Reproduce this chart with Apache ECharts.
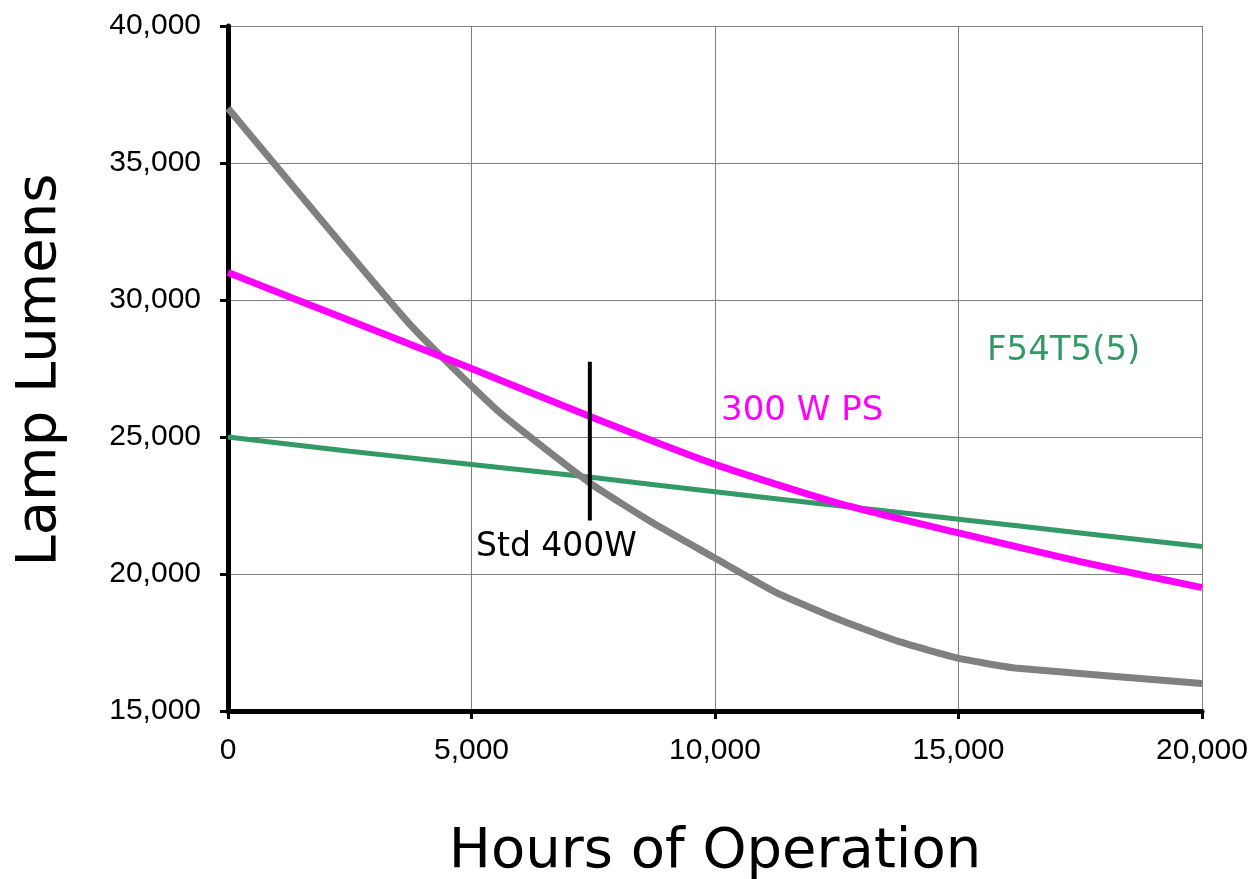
<!DOCTYPE html>
<html>
<head>
<meta charset="utf-8">
<script src="https://cdn.jsdelivr.net/npm/echarts@6/dist/echarts.min.js"></script>
<style>
html,body{margin:0;padding:0;background:#fff;}
#chart{width:1258px;height:879px;}
</style>
</head>
<body>
<div id="chart"></div>
<script>
// Data
const std400Hours  = [0, 3740, 5590, 7450, 8730, 9960, 11270, 12570, 13800, 14990, 16160, 20000];
const std400Lumens = [37000, 29100, 25880, 23300, 21860, 20620, 19310, 18320, 17520, 16930, 16570, 16000];

const ps300Hours  = [0, 2500, 5000, 7500, 10000, 12500, 15000, 17500, 20000];
const ps300Lumens = [31000, 29250, 27500, 25700, 24000, 22600, 21500, 20450, 19500];

const t5Hours  = [0, 2500, 5000, 7500, 10000, 12500, 15000, 17500, 20000];
const t5Lumens = [25000, 24480, 24000, 23520, 23000, 22500, 22000, 21500, 21000];

const markerHours  = [7430, 7430];
const markerLumens = [27750, 21950];

const xTicks = [0, 5000, 10000, 15000, 20000];
const yTicks = [15000, 20000, 25000, 30000, 35000, 40000];

const seriesNames = ['Std 400W', '300 W PS', 'F54T5(5)'];

function pairs(xs, ys){ return xs.map((x,i)=>[x, ys[i]]); }
function fmt(v){ return v.toLocaleString('en-US'); }

const chart = echarts.init(document.getElementById('chart'));
const tickFont = 'Liberation Sans';

chart.setOption({
  animation: false,
  backgroundColor: '#ffffff',
  grid: {left: 228, right: 56, top: 26, bottom: 168},
  xAxis: {
    type: 'value', min: xTicks[0], max: xTicks[xTicks.length-1], interval: 5000,
    axisLine: {show: true, onZero: false, lineStyle: {color: '#000', width: 5}},
    axisTick: {show: true, length: 8, lineStyle: {color: '#000', width: 3}},
    axisLabel: {formatter: fmt, color: '#000', fontFamily: tickFont, fontSize: 30, margin: 25},
    splitLine: {show: true, lineStyle: {color: '#808080', width: 1}}
  },
  yAxis: {
    type: 'value', min: yTicks[0], max: yTicks[yTicks.length-1], interval: 5000,
    axisLine: {show: true, onZero: false, lineStyle: {color: '#000', width: 5}},
    axisTick: {show: true, length: 8, lineStyle: {color: '#000', width: 3}},
    axisLabel: {formatter: fmt, color: '#000', fontFamily: tickFont, fontSize: 30, margin: 27},
    splitLine: {show: true, lineStyle: {color: '#808080', width: 1}}
  },
  series: [
    {name: seriesNames[2], type: 'line', data: pairs(t5Hours, t5Lumens), showSymbol: false, smooth: 0.2,
     lineStyle: {color: '#339966', width: 5}, z: 3},
    {name: seriesNames[0], type: 'line', data: pairs(std400Hours, std400Lumens), showSymbol: false, smooth: 0.15,
     lineStyle: {color: '#808080', width: 7}, z: 4},
    {name: seriesNames[1], type: 'line', data: pairs(ps300Hours, ps300Lumens), showSymbol: false, smooth: 0.2,
     lineStyle: {color: '#ff00ff', width: 7}, z: 5},
    {name: 'marker', type: 'line', data: pairs(markerHours, markerLumens), showSymbol: false,
     lineStyle: {color: '#000', width: 4}, z: 6}
  ],
  graphic: [
    {type: 'text', x: 476, y: 547, style: {text: seriesNames[0], font: '33px "DejaVu Sans"', fill: '#000', verticalAlign: 'middle'}},
    {type: 'text', x: 721, y: 411, style: {text: seriesNames[1], font: '34px "DejaVu Sans"', fill: '#ff00ff', verticalAlign: 'middle'}},
    {type: 'text', x: 987, y: 351, style: {text: seriesNames[2], font: '34px "DejaVu Sans"', fill: '#339966', verticalAlign: 'middle'}},
    {type: 'text', x: 40, y: 370, rotation: Math.PI/2,
     style: {text: 'Lamp Lumens', font: '56px "DejaVu Sans"', fill: '#000', align: 'center', verticalAlign: 'middle'}},
    {type: 'text', x: 715, y: 852,
     style: {text: 'Hours of Operation', font: '56px "DejaVu Sans"', fill: '#000', align: 'center', verticalAlign: 'middle'}}
  ]
});
</script>
</body>
</html>
